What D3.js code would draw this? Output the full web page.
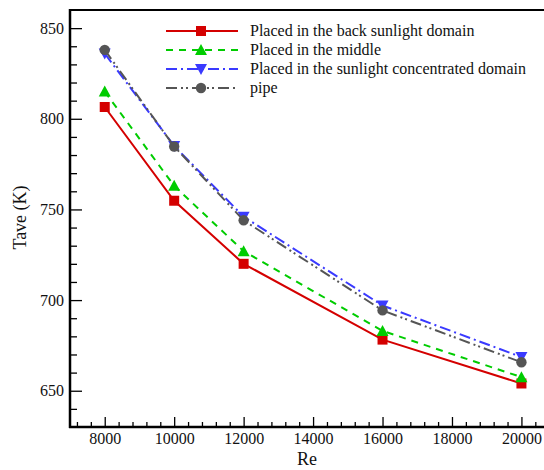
<!DOCTYPE html>
<html>
<head>
<meta charset="utf-8">
<script src="https://cdn.jsdelivr.net/npm/d3@7"></script>
<style>
  html, body { margin: 0; padding: 0; background: #fff; }
  svg { display: block; }
  text { font-family: "Liberation Serif", "Times New Roman", "DejaVu Serif", serif; fill: #111; }
</style>
</head>
<body>
<svg id="chart" width="544" height="470"></svg>
<script>
// Reynolds numbers sampled
const reValues = [8000, 10000, 12000, 16000, 20000];

// Average temperature (K) for each placement
const backSunlight = [806.5, 754.8, 720.0, 678.2, 654.0];
const middle = [815.0, 763.0, 727.0, 683.0, 657.5];
const sunlightConcentrated = [836.0, 785.0, 746.0, 697.0, 668.6];
const pipe = [838.0, 784.7, 744.0, 694.3, 665.7];

const seriesNames = [
  "Placed in the back sunlight domain",
  "Placed in the middle",
  "Placed in the sunlight concentrated domain",
  "pipe"
];

const xTicks = [8000, 10000, 12000, 14000, 16000, 18000, 20000];
const yTicks = [650, 700, 750, 800, 850];

const W = 544, H = 470;
const plot = { left: 70, right: 544, top: 10, bottom: 427 };

const x = d3.scaleLinear().domain([7000, 20650]).range([plot.left, plot.right]);
const y = d3.scaleLinear().domain([630, 860]).range([plot.bottom, plot.top]);

const svg = d3.select("#chart");

const styles = [
  { color: "#d40000", dash: null, marker: "square" },
  { color: "#00cc00", dash: "7,6", marker: "triUp" },
  { color: "#3a3aff", dash: "11,4,2,4", marker: "triDown" },
  { color: "#555555", dash: "11,4,2,3,2,4", marker: "circle" }
];
const data = [backSunlight, middle, sunlightConcentrated, pipe];

function drawMarker(g, kind, cx, cy, color) {
  if (kind === "square") {
    g.append("rect").attr("x", cx - 5).attr("y", cy - 5)
      .attr("width", 10).attr("height", 10).attr("fill", color);
  } else if (kind === "triUp") {
    g.append("path").attr("d", `M${cx},${cy - 6}L${cx + 6},${cy + 5}L${cx - 6},${cy + 5}Z`)
      .attr("fill", color);
  } else if (kind === "triDown") {
    g.append("path").attr("d", `M${cx},${cy + 6}L${cx + 6},${cy - 5}L${cx - 6},${cy - 5}Z`)
      .attr("fill", color);
  } else {
    g.append("circle").attr("cx", cx).attr("cy", cy).attr("r", 5.2).attr("fill", color);
  }
}

// Series lines and markers
const line = d3.line().x((d, i) => x(reValues[i])).y(d => y(d));
data.forEach((vals, k) => {
  const s = styles[k];
  const g = svg.append("g");
  g.append("path").datum(vals).attr("d", line)
    .attr("fill", "none").attr("stroke", s.color).attr("stroke-width", 2)
    .attr("stroke-dasharray", s.dash);
  vals.forEach((v, i) => drawMarker(g, s.marker, x(reValues[i]), y(v), s.color));
});

// Axes frame
const axisG = svg.append("g");
axisG.append("line").attr("x1", plot.left).attr("x2", plot.left)
  .attr("y1", plot.top - 1).attr("y2", plot.bottom + 1)
  .attr("stroke", "#000").attr("stroke-width", 2.5);
axisG.append("line").attr("x1", plot.left - 1).attr("x2", plot.right)
  .attr("y1", plot.bottom).attr("y2", plot.bottom)
  .attr("stroke", "#000").attr("stroke-width", 2.5);
axisG.append("line").attr("x1", plot.left - 1).attr("x2", plot.right)
  .attr("y1", plot.top).attr("y2", plot.top)
  .attr("stroke", "#000").attr("stroke-width", 2);

const fontStack = "'Liberation Serif', 'Times New Roman', 'DejaVu Serif', serif";

// Bottom axis: inward ticks
const xMinor = d3.range(7200, 20600, 400).filter(v => !xTicks.includes(v));
const xAxis = d3.axisBottom(x).tickValues(xTicks).tickSize(-10).tickPadding(6)
  .tickFormat(d3.format("d"));
const xMinorAxis = d3.axisBottom(x).tickValues(xMinor).tickSize(-5).tickFormat("");
svg.append("g").attr("transform", `translate(0,${plot.bottom})`).call(xMinorAxis)
  .call(g => g.select(".domain").remove())
  .call(g => g.selectAll("line").attr("stroke", "#000").attr("stroke-width", 1.3));
svg.append("g").attr("transform", `translate(0,${plot.bottom})`).call(xAxis)
  .attr("font-family", fontStack)
  .call(g => g.select(".domain").remove())
  .call(g => g.selectAll("line").attr("stroke", "#000").attr("stroke-width", 1.3))
  .call(g => g.selectAll("text").attr("font-size", 16).attr("fill", "#111"));

// Left axis: inward ticks
const yMinor = d3.range(640, 860, 10).filter(v => !yTicks.includes(v));
const yAxis = d3.axisLeft(y).tickValues(yTicks).tickSize(-12).tickPadding(6);
const yMinorAxis = d3.axisLeft(y).tickValues(yMinor).tickSize(-7).tickFormat("");
svg.append("g").attr("transform", `translate(${plot.left},0)`).call(yMinorAxis)
  .call(g => g.select(".domain").remove())
  .call(g => g.selectAll("line").attr("stroke", "#000").attr("stroke-width", 1.3));
svg.append("g").attr("transform", `translate(${plot.left},0)`).call(yAxis)
  .attr("font-family", fontStack)
  .call(g => g.select(".domain").remove())
  .call(g => g.selectAll("line").attr("stroke", "#000").attr("stroke-width", 1.3))
  .call(g => g.selectAll("text").attr("font-size", 16).attr("fill", "#111"));

// Axis titles
svg.append("text").attr("x", (plot.left + plot.right) / 2).attr("y", 465)
  .attr("text-anchor", "middle").attr("font-size", 18).text("Re");
svg.append("text").attr("transform", "translate(26,217.5) rotate(-90)")
  .attr("text-anchor", "middle").attr("font-size", 18).text("Tave (K)");

// Legend
const legend = svg.append("g");
seriesNames.forEach((name, k) => {
  const s = styles[k];
  const ly = 31 + k * 19;
  legend.append("line").attr("x1", 166).attr("x2", 238).attr("y1", ly).attr("y2", ly)
    .attr("stroke", s.color).attr("stroke-width", 2).attr("stroke-dasharray", s.dash);
  drawMarker(legend, s.marker, 201, ly, s.color);
  legend.append("text").attr("x", 250).attr("y", ly + 5)
    .attr("font-size", 16).text(name);
});
</script>
</body>
</html>
